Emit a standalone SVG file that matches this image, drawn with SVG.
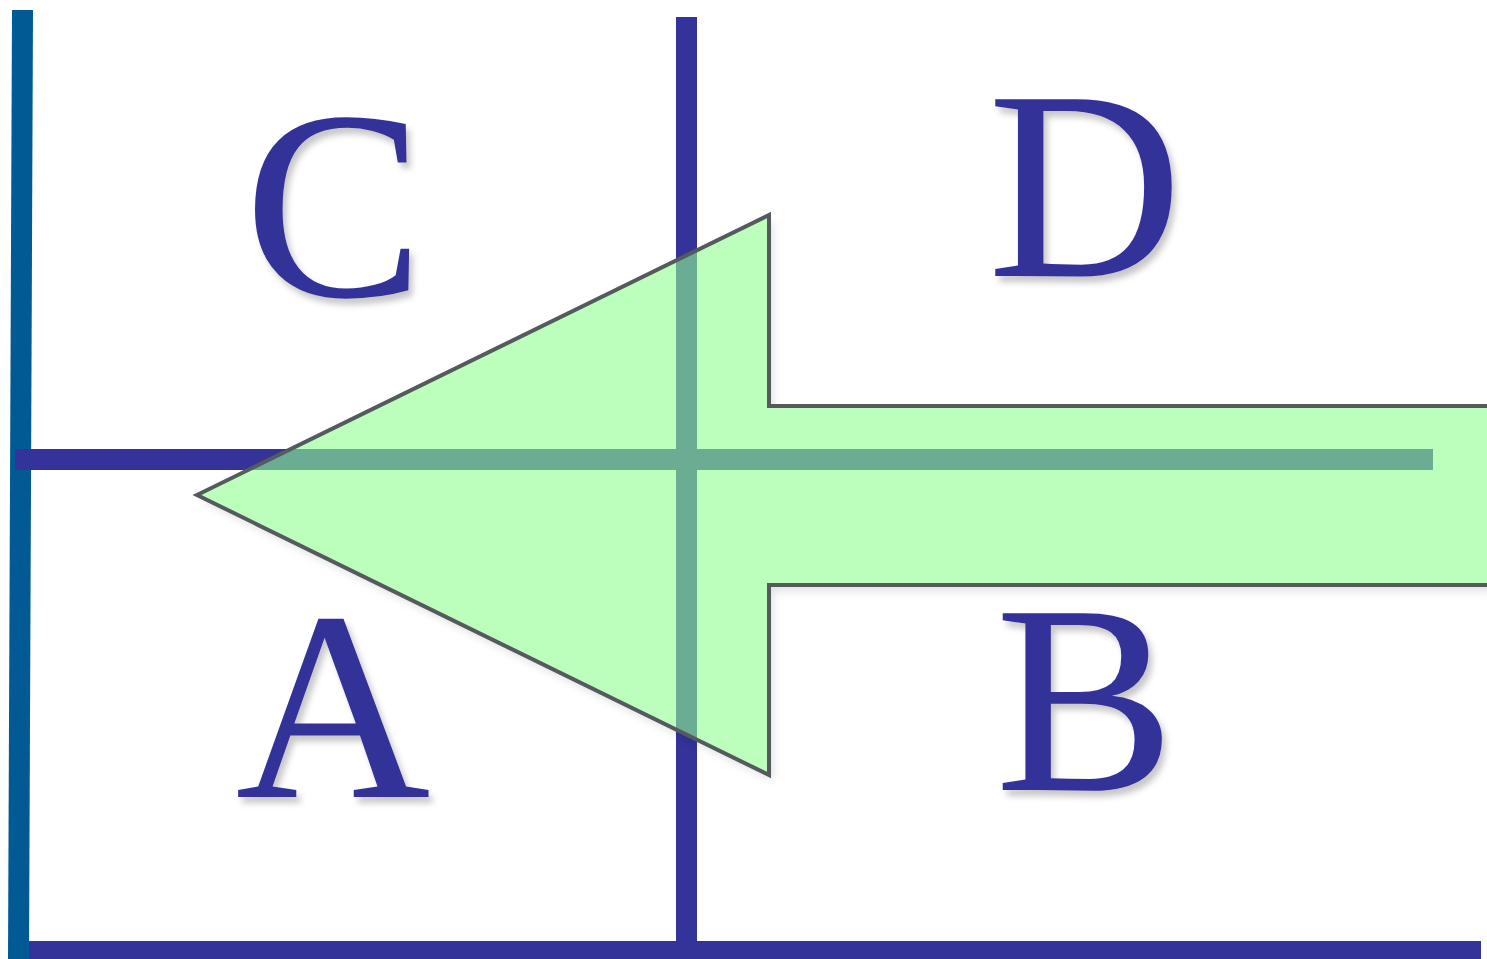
<svg xmlns="http://www.w3.org/2000/svg" width="1487" height="959" viewBox="0 0 1487 959">
<defs>
<filter id="sh" x="-10%" y="-10%" width="130%" height="130%">
<feDropShadow dx="4" dy="6" stdDeviation="3" flood-color="#000" flood-opacity="0.22"/>
</filter>
<filter id="blur" x="-10%" y="-10%" width="130%" height="130%">
<feGaussianBlur stdDeviation="4"/>
</filter>
<mask id="outside">
<rect width="1487" height="959" fill="#fff"/>
<polygon points="197,495 769,215 769,406 1490,406 1490,585 769,585 769,775" fill="#000"/>
</mask>
<style>
.ln{stroke:#333399;stroke-width:21;fill:none}
</style>
</defs>
<rect width="1487" height="959" fill="#fff"/>
<g id="grid">
<line class="ln" x1="15" y1="951.5" x2="1481" y2="951.5"/>
<line x1="22.5" y1="10" x2="18.5" y2="959" stroke="#025A94" stroke-width="21"/>
<line class="ln" x1="686.5" y1="17" x2="686.5" y2="945"/>
<line class="ln" x1="15" y1="459.5" x2="1433" y2="459.5"/>
</g>
<g font-family="'Liberation Serif', 'Times New Roman', serif" font-size="270" fill="#333399" text-anchor="middle" filter="url(#sh)">
<g id="label-C"><text x="334" y="296">C</text></g>
<g id="label-D"><text x="1085" y="276">D</text></g>
<g id="label-A"><text x="333" y="797">A</text></g>
<g id="label-B"><text x="1085" y="790">B</text></g>
</g>
<g id="arrow">
<g mask="url(#outside)"><polygon points="197,495 769,215 769,406 1490,406 1490,585 769,585 769,775" fill="#000" fill-opacity="0.12" transform="translate(4,6)" filter="url(#blur)"/></g>
<polygon points="197,495 769,215 769,406 1490,406 1490,585 769,585 769,775" fill="#8FFF8F" fill-opacity="0.6" stroke="#555A5E" stroke-width="4"/>
</g>
</svg>
